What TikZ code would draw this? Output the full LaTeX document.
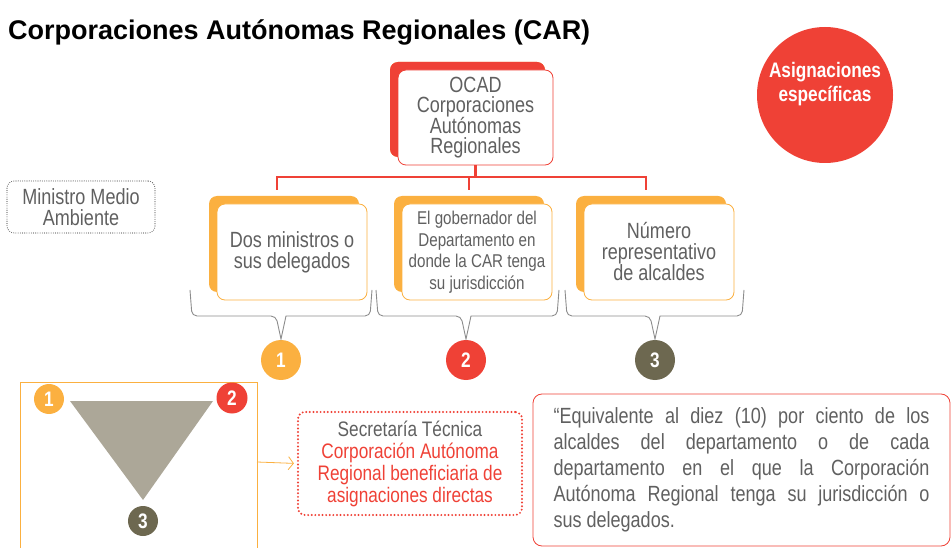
\documentclass[tikz,border=0pt]{standalone}
\usepackage{fontspec}
\setmainfont{Liberation Sans}[FakeStretch=0.82]
\newfontfamily\titlefont{Liberation Sans}
\usetikzlibrary{arrows.meta,positioning,calc}
\definecolor{carred}{HTML}{EF4136}
\definecolor{carorange}{HTML}{FBB040}
\definecolor{carolive}{HTML}{6D6850}
\definecolor{cartri}{HTML}{ACA798}
\definecolor{textgray}{HTML}{606060}
\definecolor{bracegray}{HTML}{8C8C8C}

\begin{document}
\begin{tikzpicture}[x=1pt, y=-1pt,
  member/.style={draw=carorange, line width=0.8pt, fill=white, rounded corners=8pt, minimum width=150pt, minimum height=96pt, align=center, text=textgray,
    preaction={fill=carorange, transform canvas={shift={(-8pt,8pt)}}}},
  ocadbox/.style={member, draw=carred, minimum width=155pt, minimum height=95pt,
    preaction={fill=carred, transform canvas={shift={(-8pt,8pt)}}}},
  numdot/.style={circle, inner sep=0pt, minimum size=#1, text=white, font=\bfseries\fontsize{21}{21}\selectfont},
  redline/.style={carred, line width=2.5pt},
  brace/.style={bracegray, line width=0.9pt, rounded corners=5pt},
  dottedbox/.style={rounded corners=7pt, line cap=round, align=center}
]
  \useasboundingbox (0,0) rectangle (951,548);

  % title
  \node[anchor=base west, inner sep=0pt, font=\titlefont\bfseries\fontsize{27}{27}\selectfont] (title) at (8,40) {Corporaciones Autónomas Regionales (CAR)};

  % asignaciones
  \node[circle, fill=carred, minimum size=136pt] (asig) at (825,95) {};
  \node[align=center, text=white, font=\bfseries\fontsize{21}{24}\selectfont] (asigtxt) at ($(asig)+(0,-11)$) {Asignaciones\\específicas};

  % ocad and members
  \node[ocadbox, font=\fontsize{22}{20}\selectfont] (ocad) at (475.5,117.5) {OCAD\\Corporaciones\\Autónomas\\Regionales};
  \node[member, font=\fontsize{22}{21}\selectfont] (m1) at (292,252) {Dos ministros o\\sus delegados};
  \node[member, font=\fontsize{18.5}{21.5}\selectfont] (m2) at (477,252) {El gobernador del\\Departamento en\\donde la CAR tenga\\su jurisdicción};
  \node[member, font=\fontsize{22}{21}\selectfont] (m3) at (659,252) {Número\\representativo\\de alcaldes};

  \node[dottedbox, draw=black!65, line width=1.1pt, dash pattern=on 0pt off 2.2pt, minimum width=148pt, minimum height=52pt, text=textgray, font=\fontsize{22}{21}\selectfont] (ministro) at (81,207) {Ministro Medio\\Ambiente};

  % red connectors
  \coordinate (d1) at (277,190);
  \coordinate (d2) at (469,190);
  \coordinate (d3) at (646,190);
  \draw[redline] (d1) -- ++(0,-13) coordinate (bus) -| (d3);
  \draw[redline] (d2) -- (d2 |- bus);
  \draw[redline] (ocad.south) -- (ocad.south |- bus);

  % numbers
  \node[numdot=40pt, fill=carorange] (n1) at (281,360) {1};
  \node[numdot=40pt, fill=carred] (n2) at (466,360) {2};
  \node[numdot=40pt, fill=carolive] (n3) at (655,360) {3};

  % braces
  \foreach \l/\t/\r in {190/281/372, 376/466/559, 565/655/744}
    \draw[brace] (\l,290) -- (\l+2,316) -- (\t-5,316) [sharp corners] -- (\t,339) -- (\t+5,316) [rounded corners=5pt] -- (\r-2,316) -- (\r,290);

  % triangle frame
  \draw[carorange, line width=0.8pt] (20,548) -- (20,382) -- (257,382) -- (257,548);
  \coordinate (frameR) at (257,462);
  \fill[cartri] (70,401) coordinate (tA) -- (213,401) coordinate (tB) -- (143,500) coordinate (tC) -- cycle;
  \node[numdot=30pt, fill=carorange] (t1) at (49,399) {1};
  \node[numdot=31pt, fill=carred] (t2) at (232,398) {2};
  \node[numdot=30pt, fill=carolive] (t3) at (143,521) {3};

  % secretaria
  \node[dottedbox, draw=carred, line width=2.2pt, dash pattern=on 0pt off 3.6pt, minimum width=224pt, minimum height=103pt, text=carred, font=\fontsize{21}{22}\selectfont] (sec) at (410,463.5) {\textcolor{textgray}{Secretaría Técnica}\\Corporación Autónoma\\Regional beneficiaria de\\asignaciones directas};
  \draw[carorange, line width=0.8pt, -{Straight Barb[length=5pt, width=13pt]}, shorten >=3pt] (frameR) -- (sec.west);

  % quote
  \node[draw=carred, line width=0.8pt, rounded corners=9pt, text width=376pt, inner xsep=20.5pt, minimum height=152pt, align=justify, text=textgray, font=\fontsize{22}{26}\selectfont] (quote) at (741.5,470) {\hbadness=10000 “Equivalente al diez (10) por ciento de los\linebreak alcaldes del departamento o de cada\linebreak departamento en el que la Corporación\linebreak Autónoma Regional tenga su jurisdicción o\linebreak sus delegados.};
\end{tikzpicture}
\end{document}
